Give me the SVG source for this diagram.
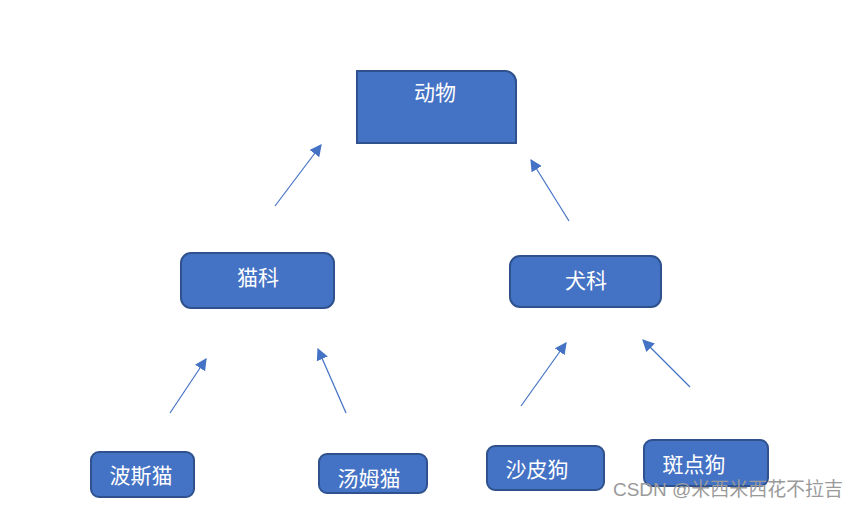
<svg xmlns="http://www.w3.org/2000/svg" width="859" height="507" viewBox="0 0 859 507">
<style>
.box{fill:#4472C4;stroke:#2F528F;stroke-width:2}
.lbl{fill:#ffffff;font-family:"Noto Sans CJK SC","Noto Sans",sans-serif;font-size:21px;text-anchor:middle}
.arr{stroke:#4472C4;stroke-width:1.2;fill:none;marker-end:url(#ah)}
.wm{fill:#9a9a9a;font-family:"Liberation Sans","Noto Sans CJK SC",sans-serif;font-size:19px}
</style>
<defs>
<marker id="ah" viewBox="0 0 10 10" refX="9" refY="5" markerWidth="12" markerHeight="12" markerUnits="userSpaceOnUse" orient="auto">
<path d="M0,0 L10,5 L0,10 z" fill="#4472C4"/>
</marker>
</defs>
<rect width="859" height="507" fill="#ffffff"/>
<g id="connectors">
<line class="arr" x1="275" y1="206" x2="321" y2="145"/>
<line class="arr" x1="569" y1="221" x2="531" y2="160"/>
<line class="arr" x1="170" y1="413" x2="206" y2="359"/>
<line class="arr" x1="346" y1="413" x2="318" y2="349"/>
<line class="arr" x1="521" y1="406" x2="566" y2="343"/>
<line class="arr" x1="690" y1="387" x2="643" y2="340"/>
</g>
<g id="animal">
<path class="box" d="M357,71 H505 A11,11 0 0 1 516,82 V143 H357 Z"/>
<text class="lbl" x="435" y="100">动物</text>
</g>
<g id="cat">
<rect class="box" x="181" y="253" width="153" height="55" rx="10"/>
<text class="lbl" x="258" y="285">猫科</text>
</g>
<g id="dog">
<rect class="box" x="510" y="256" width="151" height="51" rx="10"/>
<text class="lbl" x="586" y="288">犬科</text>
</g>
<g id="persian">
<rect class="box" x="91" y="452" width="103" height="45" rx="8"/>
<text class="lbl" x="141" y="483">波斯猫</text>
</g>
<g id="tom">
<rect class="box" x="319" y="454" width="108" height="39" rx="8"/>
<text class="lbl" x="369" y="486">汤姆猫</text>
</g>
<g id="shar">
<rect class="box" x="487" y="446" width="117" height="44" rx="8"/>
<text class="lbl" x="537" y="477">沙皮狗</text>
</g>
<g id="dalmatian">
<rect class="box" x="644" y="440" width="124" height="46" rx="8"/>
<text class="lbl" x="694" y="472">斑点狗</text>
</g>
<text class="wm" x="613" y="496" textLength="230" lengthAdjust="spacingAndGlyphs">CSDN @米西米西花不拉吉</text>
</svg>
